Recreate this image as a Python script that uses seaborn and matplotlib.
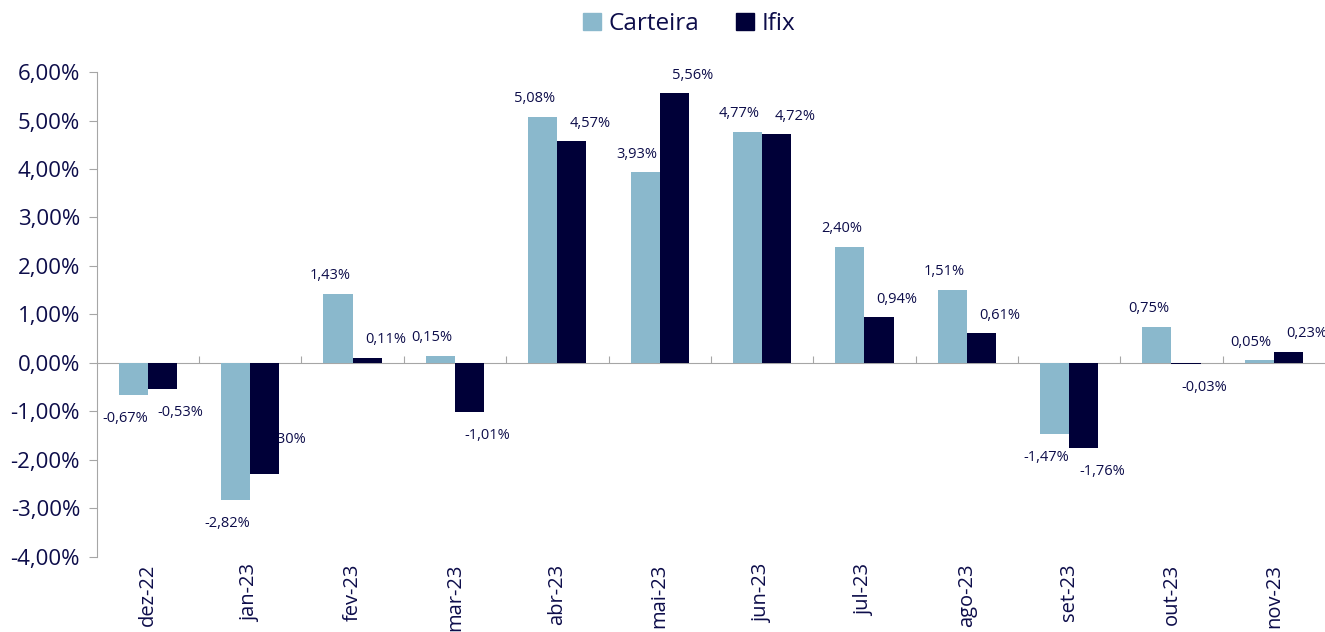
import pandas as pd
import matplotlib.pyplot as plt
import seaborn as sns
from matplotlib.ticker import FuncFormatter

# ----------------------------
# data
# ----------------------------
meses = ["dez-22", "jan-23", "fev-23", "mar-23", "abr-23", "mai-23",
         "jun-23", "jul-23", "ago-23", "set-23", "out-23", "nov-23"]
carteira = [-0.67, -2.82, 1.43, 0.15, 5.08, 3.93, 4.77, 2.40, 1.51, -1.47, 0.75, 0.05]
ifix = [-0.53, -2.30, 0.11, -1.01, 4.57, 5.56, 4.72, 0.94, 0.61, -1.76, -0.03, 0.23]
series = ["Carteira", "Ifix"]

df = pd.DataFrame({
    "mes": meses * 2,
    "serie": ["Carteira"] * len(meses) + ["Ifix"] * len(meses),
    "valor": carteira + ifix,
})

LIGHT = "#8AB8CC"
DARK = "#000038"
TEXT = "#0D0D4A"
GRID = "#A6A6A6"

sns.set_style("white")
plt.rcParams["font.family"] = ["Open Sans", "DejaVu Sans"]


def pct(v, pos=None):
    return f"{v:.2f}%".replace(".", ",")


fig = plt.figure(figsize=(13.25, 6.32), dpi=100)
ax = fig.add_axes([0.073, 0.119, 0.927, 0.767])

sns.barplot(data=df, x="mes", y="valor", hue="serie", order=meses,
            hue_order=series, palette=[LIGHT, DARK], width=0.57,
            saturation=1, legend=False, ax=ax, zorder=3, linewidth=0)

ax.set_ylim(-4, 6)
ax.set_xlim(-0.5, len(meses) - 0.5)
ax.set_yticks(range(-4, 7))
ax.yaxis.set_major_formatter(FuncFormatter(pct))
ax.set_xlabel("")
ax.set_ylabel("")

for s in ["top", "right", "bottom"]:
    ax.spines[s].set_visible(False)
ax.spines["left"].set_color(GRID)
ax.tick_params(axis="y", direction="out", length=6, color=GRID,
               labelsize=16, labelcolor=TEXT, left=True, pad=6)
ax.tick_params(axis="x", length=0, labelsize=14.5, labelcolor=TEXT,
               rotation=90, pad=5)

# zero line with category separator ticks
zero = ax.secondary_xaxis(0.4)
zero.set_xticks([i + 0.5 for i in range(len(meses) - 1)])
zero.set_xticklabels([])
zero.tick_params(direction="in", length=5, color=GRID)
zero.spines["bottom"].set_color(GRID)

# data labels
dx = {"Carteira": -6, "Ifix": 13}
for cont, name in zip(ax.containers, series):
    for bar, mes, v in zip(cont, meses, df.loc[df.serie == name, "valor"]):
        xc = bar.get_x() + bar.get_width() / 2
        if name == "Ifix" and mes == "jan-23":
            # this label sits behind the bar in the original
            ax.annotate(pct(v), (xc, v * 0.69), xytext=(dx[name], 0),
                        textcoords="offset points", ha="center", va="center",
                        fontsize=10.5, color=TEXT, zorder=1)
            continue
        dy = 13 if v >= 0 else -17
        ax.annotate(pct(v), (xc, v), xytext=(dx[name], dy),
                    textcoords="offset points", ha="center", va="center",
                    fontsize=10.5, color=TEXT, zorder=4)

handles = [plt.Rectangle((0, 0), 1, 1, color=c) for c in [LIGHT, DARK]]
fig.legend(handles, series, loc="center", bbox_to_anchor=(0.52, 0.962),
           ncol=2, frameon=False, fontsize=17.5, labelcolor=TEXT,
           handlelength=0.75, handleheight=0.75, handletextpad=0.3,
           columnspacing=1.5)

fig.savefig("out.png", dpi=100)
